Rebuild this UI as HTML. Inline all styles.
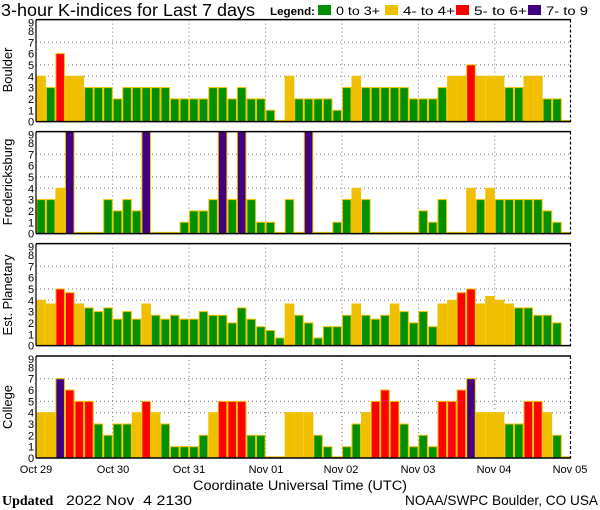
<!DOCTYPE html>
<html><head><meta charset="utf-8"><style>
html,body{margin:0;padding:0;background:#fff;width:600px;height:510px;overflow:hidden}
svg{display:block}
text{font-family:"Liberation Sans",sans-serif;fill:#000}
</style></head><body>
<svg id="s" width="600" height="510" viewBox="0 0 600 510" xmlns="http://www.w3.org/2000/svg">
<text x="1" y="16" font-size="17.5" textLength="254" lengthAdjust="spacingAndGlyphs">3-hour K-indices for Last 7 days</text>
<text x="270" y="15" font-size="11" font-weight="bold" textLength="45" lengthAdjust="spacingAndGlyphs">Legend:</text>
<rect x="318" y="5" width="13" height="10" fill="#009000"/>
<text x="336" y="15" font-size="11.5" textLength="44" lengthAdjust="spacingAndGlyphs">0 to 3+</text>
<rect x="385" y="5" width="13" height="10" fill="#f0c000"/>
<text x="403" y="15" font-size="11.5" textLength="52" lengthAdjust="spacingAndGlyphs">4- to 4+</text>
<rect x="456" y="5" width="13" height="10" fill="#ff0000"/>
<text x="474" y="15" font-size="11.5" textLength="53" lengthAdjust="spacingAndGlyphs">5- to 6+</text>
<rect x="528" y="5" width="13" height="10" fill="#400080"/>
<text x="546" y="15" font-size="11.5" textLength="42" lengthAdjust="spacingAndGlyphs">7- to 9</text>

<text x="12" y="70" font-size="13" text-anchor="middle" transform="rotate(-90 12 70)">Boulder</text>
<text x="12" y="182" font-size="13" text-anchor="middle" transform="rotate(-90 12 182)">Fredericksburg</text>
<text x="12" y="295" font-size="13" text-anchor="middle" transform="rotate(-90 12 295)">Est. Planetary</text>
<text x="12" y="407" font-size="13" text-anchor="middle" transform="rotate(-90 12 407)">College</text>

<g font-size="11" text-anchor="middle">
<text x="36" y="473">Oct 29</text>
<text x="113" y="473">Oct 30</text>
<text x="189" y="473">Oct 31</text>
<text x="266" y="473">Nov 01</text>
<text x="341" y="473">Nov 02</text>
<text x="418" y="473">Nov 03</text>
<text x="494" y="473">Nov 04</text>
<text x="570" y="473">Nov 05</text>
</g>
<text x="193" y="490" font-size="13.5" textLength="214" lengthAdjust="spacingAndGlyphs">Coordinate Universal Time (UTC)</text>
<text x="2" y="505" font-size="14" font-weight="bold" font-family="Liberation Serif" style="font-family:'Liberation Serif',serif">Updated</text>
<text x="66" y="505" font-size="14" textLength="126" lengthAdjust="spacingAndGlyphs" xml:space="preserve">2022 Nov  4 2130</text>
<text x="405" y="505" font-size="14" textLength="193" lengthAdjust="spacingAndGlyphs">NOAA/SWPC Boulder, CO USA</text>
<g id="p"></g>
</svg>
<script>
var G='#009000',Y='#f0c000',R='#ff0000',P='#400080';
function col(v){var r=Math.round(v);return r<=3?G:r==4?Y:r<=6?R:P;}
var data=[
[121.6,[4,3,6,4,4,3,3,3,2,3,3,3,3,3,2,2,2,2,3,3,2,3,2,2,1,0,4,2,2,2,2,1,3,4,3,3,3,3,3,2,2,2,3,4,4,5,4,4,4,3,3,4,4,2,2,0]],
[233.6,[3,3,4,9,0,0,0,3,2,3,2,9,0,0,0,1,2,2,3,9,3,9,3,1,1,0,3,0,9,0,0,1,3,4,3,0,0,0,0,0,2,1,3,0,0,4,3,4,3,3,3,3,3,2,1,0]],
[345.6,[4,3.67,5,4.67,3.67,3.33,3,3.33,2.33,3,2.33,3.67,2.67,2.33,2.67,2.33,2.33,3,2.67,2.67,2,3.33,2.33,1.67,1.33,0.67,3.67,2.67,2,0.67,1.67,1.67,2.67,3.67,2.67,2.33,2.67,3.67,3,2,3,1.67,3.67,4,4.67,5,3.67,4.33,4,3.67,3.33,3.33,2.67,2.67,2,null]],
[458,[4,4,7,6,5,5,3,2,3,3,4,5,4,3,1,1,1,2,4,5,5,5,2,2,0,0,4,4,4,2,1,0,1,3,4,5,6,5,3,1,2,1,5,5,6,7,4,4,4,3,3,5,5,4,2,0]]];
var x0=36.3,bw=9.553,u=11.33,h='';
data.forEach(function(d){
 var z=d[0],top=z-102;
 // y labels
 for(var k=0;k<=9;k++){h+='<text x="31" y="'+(z-k*u+4+(k==9?3:0)).toFixed(1)+'" font-size="11" text-anchor="middle" transform="scale(1,1)">'+k+'</text>';}
 // grid
 [4,5,7].forEach(function(k){var y=(z-k*u).toFixed(1);h+='<line x1="36" x2="570" y1="'+y+'" y2="'+y+'" stroke="#777" stroke-width="1" stroke-dasharray="1,3"/>';});
 for(var i=1;i<7;i++){var x=(x0+i*8*bw).toFixed(1);h+='<line x1="'+x+'" x2="'+x+'" y1="'+top+'" y2="'+z+'" stroke="#777" stroke-width="1" stroke-dasharray="1,3"/>';}
 d[1].forEach(function(v,i){if(v===null)return;var x=x0+i*bw;var ht=Math.max(v*u,1.2);
  h+='<rect x="'+(x+0.5).toFixed(1)+'" y="'+(z-ht).toFixed(1)+'" width="'+(bw-1).toFixed(2)+'" height="'+ht.toFixed(1)+'" fill="'+col(v)+'" stroke="#f0c000" stroke-width="1"/>';});
 h+='<line x1="36" x2="571" y1="'+top+'" y2="'+top+'" stroke="#000" stroke-width="1.5"/>';
 h+='<line x1="36" x2="571" y1="'+z+'" y2="'+z+'" stroke="#000" stroke-width="1.5"/>';
 h+='<line x1="36" x2="36" y1="'+top+'" y2="'+z+'" stroke="#000" stroke-width="1.2"/>';
 h+='<line x1="570.5" x2="570.5" y1="'+top+'" y2="'+z+'" stroke="#000" stroke-width="1.2" stroke-dasharray="3,2"/>';
});
document.getElementById('p').innerHTML=h;
</script>
</body></html>
